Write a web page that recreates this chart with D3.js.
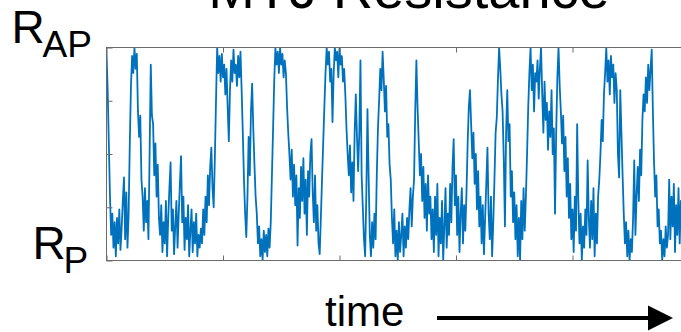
<!DOCTYPE html>
<html>
<head>
<meta charset="utf-8">
<script src="https://cdn.jsdelivr.net/npm/d3@7"></script>
<style>
  body { margin: 0; background: #fff; }
  svg { display: block; font-family: "Liberation Sans", Arial, sans-serif; }
</style>
</head>
<body>
<svg id="chart"></svg>
<script>
// time axis (arbitrary units), one tick per unit
const timeTicks = [0, 1, 2, 3, 4, 5];
// resistance level in % between R_P (0) and R_AP (100)
const levelTicks = [0, 25, 50, 75, 100];
const sampleStep = 0.01;

// MTJ resistance, one sample every 0.01 time units
const resistance = [
  98,80,55,30,12,22,6,18,2,20,
  8,24,5,15,28,39,10,32,6,22,
  55,82,96,88,100,90,97,70,58,68,
  38,30,14,34,18,28,10,50,92,68,
  64,40,55,30,45,20,12,26,4,18,
  8,28,2,20,34,46,14,24,3,16,
  28,6,22,36,49,18,30,5,20,10,
  26,2,14,24,4,18,8,22,2,12,
  6,15,8,24,12,30,18,40,26,44,
  53,34,25,48,75,100,88,96,84,97,
  86,92,78,90,72,56,80,94,84,99,
  88,92,82,96,86,98,80,60,38,22,
  11,30,58,40,70,83,62,45,30,22,
  8,16,2,10,0,14,4,12,2,15,
  6,18,40,62,85,100,92,98,88,100,
  92,97,86,94,88,72,60,50,38,52,
  30,45,26,40,7,34,20,44,28,48,
  22,38,12,42,30,50,57,32,18,40,
  14,26,8,3,20,38,55,72,88,100,
  92,98,84,90,65,88,100,94,98,86,
  100,92,96,84,90,78,62,50,40,54,
  32,46,28,60,78,58,42,60,94,40,
  25,10,2,30,71,40,12,2,18,6,
  22,10,40,62,75,90,80,98,85,70,
  82,58,64,45,38,20,8,24,2,14,
  0,18,4,12,22,2,16,6,20,10,
  24,34,16,30,38,70,94,72,56,40,
  50,28,44,20,36,14,40,22,30,10,
  24,4,30,12,36,2,20,8,28,0,
  16,34,6,22,12,36,18,44,57,26,
  40,12,30,4,22,34,8,26,14,32,
  55,72,80,64,48,60,36,50,24,42,
  16,30,8,26,3,20,36,53,22,10,
  30,2,18,38,60,67,85,100,90,78,
  70,48,16,60,80,56,64,30,42,18,
  32,10,26,2,20,0,28,10,34,14,
  30,50,72,88,100,80,92,70,88,84,
  94,76,90,100,78,60,84,66,74,52,
  70,58,80,50,62,22,60,86,100,82,
  70,55,68,42,58,30,48,20,36,10,
  24,4,30,14,64,28,8,22,0,16,
  6,24,12,47,20,6,28,10,34,2,
  22,8,30,38,50,66,56,78,88,100,
  84,94,78,96,86,92,74,88,80,50,
  39,80,60,40,22,8,18,2,14,0,
  10,4,20,47,12,30,44,28,52,40,
  66,78,70,86,74,92,80,90,99,70,
  46,30,40,16,24,8,14,0,10,2,
  16,6,12,38,10,30,16,36,4,26,
  12,34,8,28,14,32,6,24,10,30,18
];

const width = 681, height = 332;
const svg = d3.select("#chart").attr("width", width).attr("height", height);

const xScale = d3.scaleLinear().domain([0, 5]).range([106.5, 689]);
const yScale = d3.scaleLinear().domain([0, 100]).range([260.5, 47.5]);

const axisColor = "#6b6b6b";

// clip for the trace
svg.append("defs").append("clipPath").attr("id", "plot-clip")
  .append("rect")
  .attr("x", xScale(0)).attr("y", yScale(100))
  .attr("width", xScale(5) - xScale(0))
  .attr("height", yScale(0) - yScale(100));

// trace
const points = resistance.map((v, i) => ({ t: i * sampleStep, v: v }));
const line = d3.line()
  .x(d => xScale(d.t))
  .y(d => yScale(d.v));

svg.append("path")
  .datum(points)
  .attr("clip-path", "url(#plot-clip)")
  .attr("fill", "none")
  .attr("stroke", "#0072BD")
  .attr("stroke-width", 1.8)
  .attr("stroke-linejoin", "round")
  .attr("d", line);

// axes, ticks pointing inward, no labels (MATLAB box style)
function styleAxis(g) {
  g.select(".domain").remove();
  g.selectAll(".tick line").attr("stroke", axisColor);
  g.selectAll(".tick text").remove();
}

svg.append("g")
  .attr("transform", "translate(0," + yScale(0) + ")")
  .call(d3.axisBottom(xScale).tickValues(timeTicks).tickSize(-5).tickFormat(""))
  .call(styleAxis);
svg.append("g")
  .attr("transform", "translate(0," + yScale(100) + ")")
  .call(d3.axisTop(xScale).tickValues(timeTicks).tickSize(-5).tickFormat(""))
  .call(styleAxis);
svg.append("g")
  .attr("transform", "translate(" + xScale(0) + ",0)")
  .call(d3.axisLeft(yScale).tickValues(levelTicks).tickSize(-6).tickFormat(""))
  .call(styleAxis);
svg.append("g")
  .attr("transform", "translate(" + xScale(5) + ",0)")
  .call(d3.axisRight(yScale).tickValues(levelTicks).tickSize(-6).tickFormat(""))
  .call(styleAxis);

// box
svg.append("rect")
  .attr("x", xScale(0)).attr("y", yScale(100))
  .attr("width", xScale(5) - xScale(0))
  .attr("height", yScale(0) - yScale(100))
  .attr("fill", "none")
  .attr("stroke", axisColor)
  .attr("stroke-width", 1);

// title (cut off by the top edge, as in the original figure)
svg.append("text")
  .attr("x", 409).attr("y", 8)
  .attr("text-anchor", "middle")
  .style("font-size", "56px")
  .text("MTJ Resistance");

// level labels
function levelLabel(x, y, sub) {
  const g = svg.append("g");
  g.append("text").attr("x", x).attr("y", y)
    .style("font-size", "46px").text("R");
  g.append("text").attr("x", x + 31).attr("y", y + 14)
    .style("font-size", "37px").text(sub);
}
levelLabel(11.5, 43, "AP");
levelLabel(32.5, 258.5, "P");

// time label with arrow
svg.append("text")
  .attr("x", 325).attr("y", 326)
  .style("font-size", "42px")
  .text("time");

svg.append("line")
  .attr("x1", 437).attr("x2", 652)
  .attr("y1", 318).attr("y2", 318)
  .attr("stroke", "#000")
  .attr("stroke-width", 4);
svg.append("path")
  .attr("d", "M648,305.5L673,318L648,330.5Z")
  .attr("fill", "#000");
</script>
</body>
</html>
